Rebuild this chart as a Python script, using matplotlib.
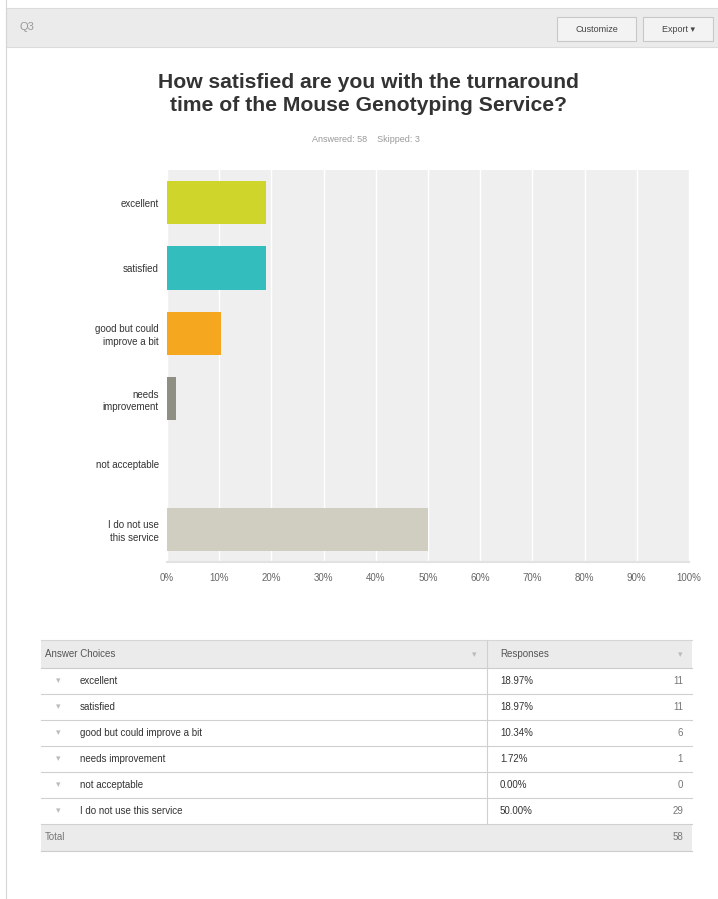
import matplotlib
matplotlib.use("Agg")
import matplotlib.pyplot as plt
from matplotlib.patches import Rectangle
from matplotlib.lines import Line2D

plt.rcParams["font.family"] = ["Liberation Sans", "DejaVu Sans"]

W, H = 718, 899

# data
categories = ["excellent", "satisfied", "good but could\nimprove a bit",
              "needs\nimprovement", "not acceptable", "I do not use\nthis service"]
table_labels = ["excellent", "satisfied", "good but could improve a bit",
                "needs improvement", "not acceptable", "I do not use this service"]
percents = [18.97, 18.97, 10.34, 1.72, 0.00, 50.00]
counts = [11, 11, 6, 1, 0, 29]
total = 58
answered, skipped = 58, 3
bar_colors = ["#cfd52b", "#33bdbd", "#f5a720", "#8f8f84", "#b7b7b7", "#cfcec0"]
tick_values = list(range(0, 101, 10))


def fx(x):
    return x / W


def fy(y):
    return 1 - y / H


fig = plt.figure(figsize=(W / 100, H / 100), dpi=100)
fig.patch.set_facecolor("white")


def rect(x0, y0, x1, y1, fc, ec="none", lw=0.8):
    fig.patches.append(Rectangle((fx(x0), fy(y1)), fx(x1 - x0), (y1 - y0) / H,
                                 transform=fig.transFigure, facecolor=fc,
                                 edgecolor=ec, linewidth=lw))


def hline(x0, x1, y, color="#d0d0d0", lw=0.8):
    fig.lines.append(Line2D([fx(x0), fx(x1)], [fy(y), fy(y)],
                            transform=fig.transFigure, color=color, linewidth=lw))


def vline(x, y0, y1, color="#d0d0d0", lw=0.8):
    fig.lines.append(Line2D([fx(x), fx(x)], [fy(y0), fy(y1)],
                            transform=fig.transFigure, color=color, linewidth=lw))


# page frame and header strip
vline(6, 0, H, color="#d6d6d6")
rect(6, 8, W, 47, "#ebebeb", ec="#dcdcdc")
fig.text(fx(20), fy(27), "Q3", fontsize=8, color="#999999", va="center")
rect(557, 17, 636, 41, "#f3f3f3", ec="#c8c8c8")
fig.text(fx(596.5), fy(29), "Customize", fontsize=6.5, color="#444444",
         ha="center", va="center")
rect(643, 17, 713, 41, "#f3f3f3", ec="#c8c8c8")
fig.text(fx(678), fy(29), "Export \u25be", fontsize=6.5, color="#444444",
         ha="center", va="center")

# title
fig.text(fx(368), fy(94),
         "How satisfied are you with the turnaround\ntime of the Mouse Genotyping Service?",
         fontsize=15.2, fontweight="bold", color="#333333", ha="center", va="center",
         linespacing=1.3)
fig.text(fx(366), fy(139), f"Answered: {answered}    Skipped: {skipped}",
         fontsize=6.5, color="#999999", ha="center", va="center")

# bar chart
ax = fig.add_axes([fx(167), fy(562), fx(689 - 167), (562 - 170) / H])
ax.set_facecolor("#efefef")
ypos = list(range(len(categories)))
ax.barh(ypos, percents, height=0.66, color=bar_colors, zorder=3)
ax.set_xlim(0, 100)
ax.set_ylim(5.5, -0.5)
ax.set_xticks(tick_values)
ax.set_xticklabels([f"{v}%" for v in tick_values], fontsize=7, color="#666666")
ax.xaxis.grid(True, color="white", linewidth=1.0, zorder=1)
ax.set_yticks(ypos)
ax.set_yticklabels(categories, fontsize=7, color="#333333", linespacing=1.3)
ax.tick_params(axis="both", length=0)
ax.tick_params(axis="x", pad=8)
ax.tick_params(axis="y", pad=6)
for s in ["top", "right", "left"]:
    ax.spines[s].set_visible(False)
ax.spines["bottom"].set_color("#e2e2e2")
ax.spines["bottom"].set_linewidth(1.5)

# table
tx0, tx1, tdiv = 41, 692, 487
row_h = 26
head_top = 640
rect(tx0, head_top, tx1, head_top + 28, "#ebebeb", ec="none")
hline(tx0, tx1, head_top, color="#d6d6d6")
hline(tx0, tx1, head_top + 28, color="#cccccc")
fig.text(fx(45), fy(head_top + 14), "Answer Choices", fontsize=7,
         color="#555555", va="center")
fig.text(fx(500), fy(head_top + 14), "Responses", fontsize=7,
         color="#555555", va="center")
fig.text(fx(474), fy(head_top + 15), "\u25be", fontsize=6.5, color="#bbbbbb",
         ha="center", va="center")
fig.text(fx(680), fy(head_top + 15), "\u25be", fontsize=6.5, color="#bbbbbb",
         ha="center", va="center")

y = head_top + 28
for label, pct, n in zip(table_labels, percents, counts):
    cy = y + row_h / 2
    fig.text(fx(58), fy(cy), "\u25be", fontsize=6.5, color="#bbbbbb",
             ha="center", va="center")
    fig.text(fx(80), fy(cy), label, fontsize=7, color="#333333", va="center")
    fig.text(fx(500), fy(cy), f"{pct:.2f}%", fontsize=7, color="#333333",
             va="center")
    fig.text(fx(683), fy(cy), str(n), fontsize=7, color="#777777",
             ha="right", va="center")
    y += row_h
    hline(tx0, tx1, y, color="#d0d0d0")
vline(tdiv, head_top, y, color="#d0d0d0")

rect(tx0, y, tx1, y + 27, "#ebebeb", ec="none")
hline(tx0, tx1, y + 27, color="#cccccc")
fig.text(fx(45), fy(y + 13.5), "Total", fontsize=7, color="#777777", va="center")
fig.text(fx(683), fy(y + 13.5), str(total), fontsize=7, color="#777777",
         ha="right", va="center")

fig.savefig("out.png", dpi=100, facecolor="white")
